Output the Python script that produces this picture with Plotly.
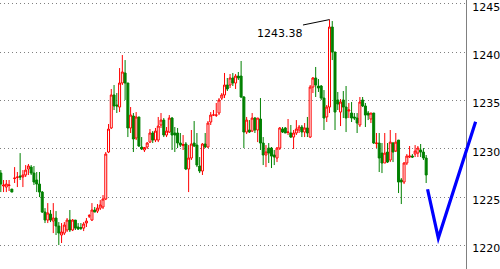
import plotly.graph_objects as go

# ---- data ----
open_ = [1227.48,1226.14,1226.03,1226.19,1225.82,1226.91,1227.02,1227.17,1227.07,1227.28,
         1227.90,1228.10,1227.48,1226.76,1226.34,1225.51,1223.44,1222.61,1223.23,1222.51,
         1222.82,1221.99,1221.06,1221.26,1221.58,1222.61,1221.58,1222.61,1221.89,1221.84,
         1221.78,1222.30,1223.03,1222.61,1223.65,1223.54,1223.85,1223.96,1224.79,1229.66,
         1232.15,1235.57,1234.53,1234.32,1236.81,1237.85,1236.81,1232.15,1233.39,1231.11,
         1233.29,1230.18,1229.87,1230.18,1230.69,1231.63,1230.90,1230.90,1232.46,1232.97,
         1231.42,1231.73,1233.18,1231.63,1231.63,1230.59,1230.33,1230.49,1227.90,1229.04,
         1230.59,1230.38,1228.21,1227.69,1230.49,1230.18,1232.77,1233.49,1233.47,1233.70,
         1235.25,1235.57,1236.60,1236.60,1237.33,1236.81,1237.53,1237.53,1235.36,1231.73,
         1231.94,1231.83,1233.18,1231.94,1233.08,1230.59,1229.35,1230.07,1230.07,1229.35,
         1229.04,1230.07,1232.04,1232.15,1231.68,1231.63,1231.21,1231.63,1231.94,1232.25,
         1231.73,1232.15,1231.21,1236.39,1237.33,1236.50,1236.50,1235.25,1233.29,1234.32,
         1242.61,1240.02,1235.05,1233.80,1235.05,1234.32,1233.91,1233.70,1233.29,1233.18,
         1232.46,1235.05,1234.43,1233.70,1233.08,1233.70,1230.54,1230.59,1229.55,1228.52,
         1229.66,1228.83,1230.59,1229.76,1230.90,1226.76,1226.55,1228.52,1229.14,1229.24,
         1229.45,1229.55,1229.87,1229.66,1229.04]
high = [1227.79,1226.76,1226.76,1226.76,1225.82,1228.10,1227.59,1229.55,1227.79,1228.31,
        1228.42,1228.31,1228.21,1227.59,1227.59,1225.62,1223.85,1224.37,1223.65,1224.37,
        1223.54,1222.40,1222.30,1222.40,1222.82,1223.65,1222.72,1222.61,1222.30,1222.30,
        1222.40,1222.82,1223.23,1224.37,1223.96,1224.27,1224.68,1225.20,1229.66,1232.56,
        1236.19,1236.60,1235.77,1238.36,1239.71,1239.19,1236.81,1234.32,1233.70,1233.80,
        1233.29,1231.21,1230.18,1230.69,1232.04,1231.83,1232.15,1233.29,1233.70,1233.18,
        1232.25,1233.49,1233.29,1232.25,1232.15,1231.63,1231.42,1230.69,1230.38,1231.94,
        1232.87,1231.63,1229.14,1230.59,1231.63,1232.87,1233.80,1234.01,1234.74,1235.25,
        1235.77,1237.85,1237.33,1237.74,1237.85,1237.74,1237.95,1239.09,1235.46,1233.29,
        1232.97,1233.70,1233.29,1233.18,1235.25,1231.21,1230.38,1230.59,1230.18,1229.87,
        1230.18,1232.25,1232.25,1232.25,1233.08,1232.46,1231.94,1232.97,1232.46,1232.46,
        1232.66,1233.29,1236.60,1237.43,1238.47,1237.22,1236.60,1236.08,1234.53,1243.38,
        1243.23,1240.02,1235.88,1235.15,1235.98,1236.50,1234.74,1234.84,1233.70,1233.70,
        1235.36,1235.36,1234.74,1233.91,1233.70,1233.70,1231.63,1231.63,1230.59,1231.63,
        1230.59,1231.94,1230.69,1231.63,1230.90,1226.96,1228.62,1229.45,1230.28,1229.45,
        1230.38,1230.28,1230.49,1230.07,1229.35]
low = [1225.51,1225.51,1225.51,1225.62,1225.51,1226.45,1226.03,1226.76,1226.03,1227.07,
       1227.28,1227.28,1226.24,1225.51,1224.99,1223.34,1222.30,1222.30,1222.40,1221.26,
       1221.06,1220.02,1220.23,1221.06,1221.37,1221.37,1221.47,1221.58,1221.58,1221.58,
       1221.47,1221.89,1222.82,1222.51,1223.44,1223.34,1223.65,1223.75,1224.68,1229.55,
       1232.04,1234.01,1233.70,1233.80,1236.60,1235.05,1231.21,1231.63,1229.66,1230.90,
       1230.18,1229.87,1229.66,1229.97,1230.59,1230.59,1230.69,1230.69,1232.15,1231.21,
       1231.21,1231.63,1229.87,1229.66,1230.07,1230.18,1229.87,1227.79,1225.51,1228.83,
       1230.18,1228.10,1227.48,1227.28,1230.07,1230.07,1232.46,1233.39,1233.29,1233.49,
       1235.05,1235.25,1235.98,1236.29,1236.50,1236.19,1237.12,1235.25,1230.07,1231.52,
       1231.63,1231.73,1231.63,1230.69,1229.87,1228.31,1228.10,1228.52,1228.00,1228.31,
       1228.62,1229.87,1231.63,1231.63,1231.42,1231.11,1229.97,1231.42,1231.63,1231.21,
       1231.21,1231.21,1231.11,1235.77,1235.36,1235.88,1235.05,1231.94,1232.77,1233.70,
       1239.19,1231.94,1234.01,1232.35,1233.18,1231.73,1233.18,1232.77,1232.97,1231.63,
       1232.25,1234.32,1232.25,1232.97,1232.66,1230.49,1230.07,1227.59,1227.48,1228.52,
       1228.52,1228.62,1228.62,1229.66,1225.41,1224.27,1226.34,1228.31,1229.04,1229.04,
       1229.14,1229.14,1229.14,1228.83,1226.45]
close = [1226.34,1226.24,1226.34,1226.24,1225.51,1226.96,1227.07,1227.07,1227.28,1227.79,
         1228.21,1227.48,1226.55,1226.34,1225.51,1223.44,1222.61,1223.34,1222.61,1222.82,
         1221.99,1221.26,1221.37,1222.09,1222.61,1221.58,1222.61,1221.78,1221.68,1221.75,
         1222.20,1222.51,1223.05,1223.65,1223.44,1223.85,1224.17,1224.79,1229.45,1232.04,
         1235.57,1234.43,1234.43,1236.81,1237.95,1236.81,1232.15,1233.49,1231.01,1233.29,
         1230.28,1229.97,1230.13,1230.59,1231.63,1230.90,1231.83,1232.35,1232.97,1231.42,
         1231.83,1233.18,1231.42,1231.42,1230.59,1230.38,1230.44,1227.90,1229.04,1230.49,
         1230.28,1228.31,1227.69,1230.49,1230.18,1232.66,1233.49,1233.50,1233.49,1235.05,
         1235.57,1236.60,1236.19,1237.33,1236.81,1237.53,1237.33,1235.36,1231.73,1232.97,
         1231.73,1233.18,1231.94,1233.18,1230.59,1229.35,1229.66,1229.55,1229.24,1229.14,
         1230.07,1232.15,1231.73,1231.63,1231.73,1231.21,1231.63,1232.04,1232.25,1231.73,
         1232.15,1231.63,1236.39,1237.33,1236.60,1236.29,1235.25,1233.18,1234.32,1242.61,
         1240.02,1233.80,1234.63,1234.84,1234.32,1233.18,1234.01,1233.18,1233.18,1232.66,
         1234.84,1234.43,1233.49,1233.49,1233.70,1230.59,1230.59,1229.04,1228.52,1229.55,
         1228.62,1230.69,1229.66,1230.69,1226.55,1226.55,1228.52,1229.24,1229.24,1229.14,
         1229.76,1230.07,1229.66,1229.04,1227.28]
bars = list(range(len(close)))

y_ticks = [1220, 1225, 1230, 1235, 1240, 1245]
y_min, y_max = 1217.54, 1245.41
x_min, x_max = -0.29, 168.42

high_label = "1243.38"
label_bar, label_price = 101.0, 1241.95
leader_bars = [109.4, 119]
leader_prices = [1242.82, 1243.38]

# hand-drawn blue V (bar index, price)
v_bars = [154.5, 158.4, 171.9]
v_prices = [1225.8, 1220.75, 1232.8]

RED = "#ff0000"
GREEN = "#008000"

fig = go.Figure()
fig.add_trace(go.Candlestick(
    x=bars, open=open_, high=high, low=low, close=close,
    increasing=dict(line=dict(color=RED, width=1), fillcolor="#ffffff"),
    decreasing=dict(line=dict(color=GREEN, width=1), fillcolor=GREEN),
    whiskerwidth=0, hoverinfo="skip", showlegend=False,
))

# leader line to the high
fig.add_shape(type="path",
              path=f"M {leader_bars[0]},{leader_prices[0]} L {leader_bars[1]},{leader_prices[1]}",
              xref="x", yref="y", line=dict(color="#000000", width=1))

fig.add_annotation(x=label_bar, y=label_price, xref="x", yref="y", text=high_label,
                   showarrow=False, font=dict(family="DejaVu Sans", size=11, color="#000000"))

# blue V, drawn in paper coordinates so it can cross the price axis
def to_px(b):
    return (b - x_min) / (x_max - x_min)

def to_py(p):
    return (p - y_min) / (y_max - y_min)

pts = [f"{to_px(b):.4f},{to_py(p):.4f}" for b, p in zip(v_bars, v_prices)]
fig.add_shape(type="path", path="M " + " L ".join(pts), xref="paper", yref="paper",
              line=dict(color="#0000ff", width=3.2))

fig.update_layout(
    width=500, height=269,
    margin=dict(l=0, r=32, t=0, b=0),
    paper_bgcolor="#ffffff", plot_bgcolor="#ffffff",
    showlegend=False,
    boxgap=0.28, boxgroupgap=0,
    xaxis=dict(range=[x_min, x_max], visible=False, rangeslider=dict(visible=False),
               showgrid=False, zeroline=False),
    yaxis=dict(range=[y_min, y_max], side="right", tickvals=y_ticks,
               showgrid=True, gridcolor="#808080", griddash="1px,3px", gridwidth=1,
               zeroline=False, showline=True, linecolor="#808080", linewidth=1,
               ticks="", ticklabelstandoff=3, ticklabelshift=3, ticklabeloverflow="allow",
               tickfont=dict(family="DejaVu Sans", size=11, color="#000000")),
)

fig.write_html("out.html", config={"displayModeBar": False})
